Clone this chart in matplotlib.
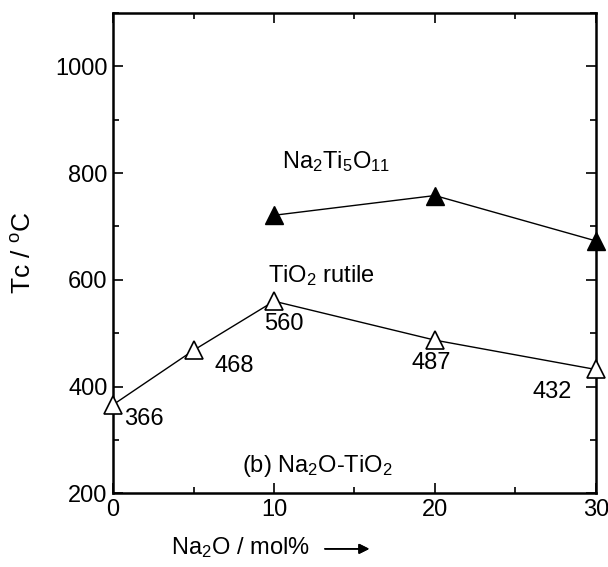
import numpy as np
import matplotlib.pyplot as plt
from matplotlib.ticker import MultipleLocator

plt.rcParams['font.family'] = ['Liberation Sans', 'DejaVu Sans']
plt.rcParams['mathtext.fontset'] = 'custom'
plt.rcParams['mathtext.rm'] = 'Liberation Sans'
plt.rcParams['mathtext.it'] = 'Liberation Sans'

# TiO2 rutile crystallisation temperature
rutile_x = [0, 5, 10, 20, 30]
rutile_tc = [366, 468, 560, 487, 432]
rutile_labels = ['366', '468', '560', '487', '432']

# Na2Ti5O11 crystallisation temperature
nt_x = [10, 20, 30]
nt_tc = [721, 758, 673]

FS = 17

fig = plt.figure(figsize=(6.08, 5.67), dpi=100)
ax = fig.add_axes([0.186, 0.130, 0.794, 0.847])

ax.plot(rutile_x, rutile_tc, color='black', lw=1, marker='^', ms=13,
        mfc='white', mec='black', mew=1.2, clip_on=False, zorder=3)
ax.plot(nt_x, nt_tc, color='black', lw=1, marker='^', ms=13,
        mfc='black', mec='black', clip_on=False, zorder=3)

# value labels next to the rutile points
offsets = [(0.7, -26, 'left'), (1.3, -29, 'left'), (0.6, -42, 'center'),
           (-0.2, -42, 'center'), (-1.5, -43, 'right')]
for x, y, lab, (dx, dy, ha) in zip(rutile_x, rutile_tc, rutile_labels, offsets):
    ax.text(x + dx, y + dy, lab, fontsize=FS, ha=ha, va='center')

ax.text(10.5, 822, 'Na$_2$Ti$_5$O$_{11}$', fontsize=FS, ha='left', va='center')
ax.text(9.6, 608, 'TiO$_2$ rutile', fontsize=FS, ha='left', va='center')
ax.text(8.0, 252, '(b) Na$_2$O-TiO$_2$', fontsize=FS, ha='left', va='center')

ax.set_xlim(0, 30)
ax.set_ylim(200, 1100)
ax.xaxis.set_major_locator(MultipleLocator(10))
ax.xaxis.set_minor_locator(MultipleLocator(5))
ax.yaxis.set_major_locator(MultipleLocator(200))
ax.yaxis.set_minor_locator(MultipleLocator(100))
ax.tick_params(which='both', direction='in', top=True, right=True,
               labelsize=FS, width=1.2)
ax.tick_params(which='major', length=7, pad=4)
ax.tick_params(which='minor', length=4)
ax.set_yticks([200, 400, 600, 800, 1000])
for s in ax.spines.values():
    s.set_linewidth(1.8)

ax.set_ylabel('Tc / $^{\\rm o}$C', fontsize=FS + 2, labelpad=14)
fig.text(0.395, 0.035, 'Na$_2$O / mol%', fontsize=FS, ha='center', va='center')
fig.add_artist(plt.annotate('', xy=(0.612, 0.032), xytext=(0.530, 0.032),
                            xycoords='figure fraction',
                            arrowprops=dict(arrowstyle='-|>', color='black',
                                            lw=1.2, mutation_scale=15)))

fig.savefig('out.png', dpi=100)
